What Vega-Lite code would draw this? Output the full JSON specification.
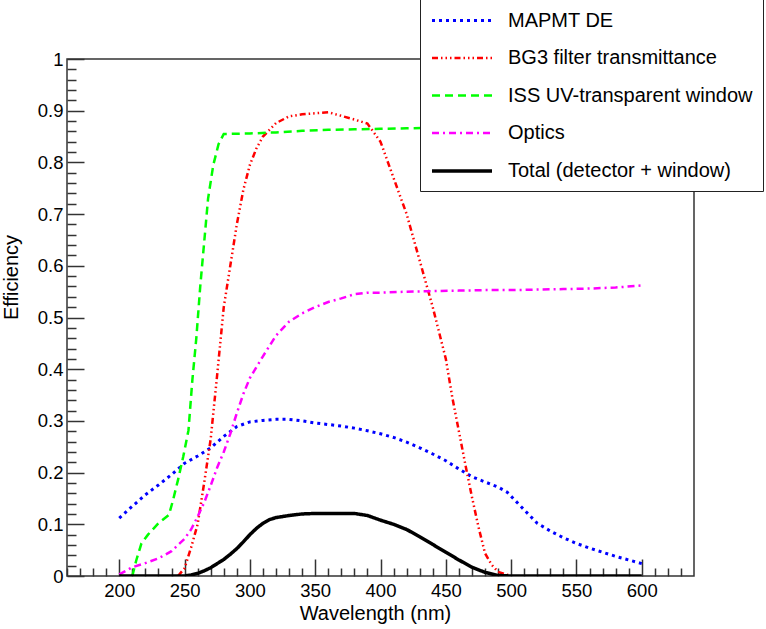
{
  "$schema": "https://vega.github.io/schema/vega-lite/v6.json",
  "width": 627,
  "height": 517,
  "autosize": "none",
  "padding": {"left": 67, "top": 59, "right": 72, "bottom": 53},
  "background": "white",
  "config": {
    "view": {"stroke": "#333", "strokeWidth": 1.5},
    "font": "Liberation Sans",
    "axis": {"grid": false, "domain": false, "tickColor": "#333", "tickWidth": 1.5, "labelFont": "Liberation Sans", "labelFontSize": 18.5, "labelColor": "black", "titleFont": "Liberation Sans", "titleFontSize": 20, "titleFontWeight": "normal", "titleColor": "black"}
  },
  "datasets": {
    "curves": [
      {"s": "MAPMT DE", "w": 200, "e": 0.112},
      {"s": "MAPMT DE", "w": 210, "e": 0.135},
      {"s": "MAPMT DE", "w": 220, "e": 0.157},
      {"s": "MAPMT DE", "w": 230, "e": 0.176},
      {"s": "MAPMT DE", "w": 240, "e": 0.196},
      {"s": "MAPMT DE", "w": 250, "e": 0.218},
      {"s": "MAPMT DE", "w": 260, "e": 0.232},
      {"s": "MAPMT DE", "w": 270, "e": 0.248},
      {"s": "MAPMT DE", "w": 280, "e": 0.27},
      {"s": "MAPMT DE", "w": 290, "e": 0.289},
      {"s": "MAPMT DE", "w": 300, "e": 0.298},
      {"s": "MAPMT DE", "w": 310, "e": 0.301},
      {"s": "MAPMT DE", "w": 320, "e": 0.303},
      {"s": "MAPMT DE", "w": 330, "e": 0.303},
      {"s": "MAPMT DE", "w": 340, "e": 0.3},
      {"s": "MAPMT DE", "w": 350, "e": 0.296},
      {"s": "MAPMT DE", "w": 360, "e": 0.293},
      {"s": "MAPMT DE", "w": 370, "e": 0.29},
      {"s": "MAPMT DE", "w": 380, "e": 0.286},
      {"s": "MAPMT DE", "w": 390, "e": 0.281},
      {"s": "MAPMT DE", "w": 400, "e": 0.275},
      {"s": "MAPMT DE", "w": 410, "e": 0.268},
      {"s": "MAPMT DE", "w": 420, "e": 0.259},
      {"s": "MAPMT DE", "w": 430, "e": 0.248},
      {"s": "MAPMT DE", "w": 440, "e": 0.236},
      {"s": "MAPMT DE", "w": 450, "e": 0.223},
      {"s": "MAPMT DE", "w": 460, "e": 0.207},
      {"s": "MAPMT DE", "w": 470, "e": 0.192},
      {"s": "MAPMT DE", "w": 480, "e": 0.182},
      {"s": "MAPMT DE", "w": 490, "e": 0.172},
      {"s": "MAPMT DE", "w": 497, "e": 0.162},
      {"s": "MAPMT DE", "w": 510, "e": 0.128},
      {"s": "MAPMT DE", "w": 520, "e": 0.102},
      {"s": "MAPMT DE", "w": 530, "e": 0.087},
      {"s": "MAPMT DE", "w": 540, "e": 0.074},
      {"s": "MAPMT DE", "w": 550, "e": 0.063},
      {"s": "MAPMT DE", "w": 560, "e": 0.054},
      {"s": "MAPMT DE", "w": 570, "e": 0.046},
      {"s": "MAPMT DE", "w": 580, "e": 0.038},
      {"s": "MAPMT DE", "w": 590, "e": 0.031},
      {"s": "MAPMT DE", "w": 600, "e": 0.024},

      {"s": "BG3 filter transmittance", "w": 245, "e": 0.0},
      {"s": "BG3 filter transmittance", "w": 250, "e": 0.015},
      {"s": "BG3 filter transmittance", "w": 255, "e": 0.055},
      {"s": "BG3 filter transmittance", "w": 260, "e": 0.1},
      {"s": "BG3 filter transmittance", "w": 265, "e": 0.18},
      {"s": "BG3 filter transmittance", "w": 270, "e": 0.265},
      {"s": "BG3 filter transmittance", "w": 275, "e": 0.39},
      {"s": "BG3 filter transmittance", "w": 280, "e": 0.52},
      {"s": "BG3 filter transmittance", "w": 285, "e": 0.6},
      {"s": "BG3 filter transmittance", "w": 290, "e": 0.68},
      {"s": "BG3 filter transmittance", "w": 295, "e": 0.747},
      {"s": "BG3 filter transmittance", "w": 300, "e": 0.795},
      {"s": "BG3 filter transmittance", "w": 305, "e": 0.827},
      {"s": "BG3 filter transmittance", "w": 310, "e": 0.85},
      {"s": "BG3 filter transmittance", "w": 320, "e": 0.876},
      {"s": "BG3 filter transmittance", "w": 330, "e": 0.889},
      {"s": "BG3 filter transmittance", "w": 340, "e": 0.893},
      {"s": "BG3 filter transmittance", "w": 350, "e": 0.895},
      {"s": "BG3 filter transmittance", "w": 360, "e": 0.897},
      {"s": "BG3 filter transmittance", "w": 370, "e": 0.89},
      {"s": "BG3 filter transmittance", "w": 380, "e": 0.883},
      {"s": "BG3 filter transmittance", "w": 390, "e": 0.875},
      {"s": "BG3 filter transmittance", "w": 400, "e": 0.84},
      {"s": "BG3 filter transmittance", "w": 410, "e": 0.77},
      {"s": "BG3 filter transmittance", "w": 420, "e": 0.7},
      {"s": "BG3 filter transmittance", "w": 430, "e": 0.61},
      {"s": "BG3 filter transmittance", "w": 440, "e": 0.52},
      {"s": "BG3 filter transmittance", "w": 450, "e": 0.42},
      {"s": "BG3 filter transmittance", "w": 455, "e": 0.345},
      {"s": "BG3 filter transmittance", "w": 460, "e": 0.28},
      {"s": "BG3 filter transmittance", "w": 465, "e": 0.215},
      {"s": "BG3 filter transmittance", "w": 470, "e": 0.153},
      {"s": "BG3 filter transmittance", "w": 475, "e": 0.095},
      {"s": "BG3 filter transmittance", "w": 480, "e": 0.044},
      {"s": "BG3 filter transmittance", "w": 485, "e": 0.022},
      {"s": "BG3 filter transmittance", "w": 490, "e": 0.008},
      {"s": "BG3 filter transmittance", "w": 500, "e": 0.0},

      {"s": "ISS UV-transparent window", "w": 210, "e": 0.0},
      {"s": "ISS UV-transparent window", "w": 213, "e": 0.03},
      {"s": "ISS UV-transparent window", "w": 217, "e": 0.063},
      {"s": "ISS UV-transparent window", "w": 222, "e": 0.08},
      {"s": "ISS UV-transparent window", "w": 230, "e": 0.102},
      {"s": "ISS UV-transparent window", "w": 238, "e": 0.118},
      {"s": "ISS UV-transparent window", "w": 241, "e": 0.145},
      {"s": "ISS UV-transparent window", "w": 245, "e": 0.186},
      {"s": "ISS UV-transparent window", "w": 249, "e": 0.231},
      {"s": "ISS UV-transparent window", "w": 253, "e": 0.282},
      {"s": "ISS UV-transparent window", "w": 256, "e": 0.38},
      {"s": "ISS UV-transparent window", "w": 259, "e": 0.46},
      {"s": "ISS UV-transparent window", "w": 262, "e": 0.56},
      {"s": "ISS UV-transparent window", "w": 265, "e": 0.645},
      {"s": "ISS UV-transparent window", "w": 268, "e": 0.73},
      {"s": "ISS UV-transparent window", "w": 272, "e": 0.795},
      {"s": "ISS UV-transparent window", "w": 276, "e": 0.835},
      {"s": "ISS UV-transparent window", "w": 280, "e": 0.855},
      {"s": "ISS UV-transparent window", "w": 300, "e": 0.856},
      {"s": "ISS UV-transparent window", "w": 320, "e": 0.858},
      {"s": "ISS UV-transparent window", "w": 340, "e": 0.861},
      {"s": "ISS UV-transparent window", "w": 360, "e": 0.863},
      {"s": "ISS UV-transparent window", "w": 380, "e": 0.864},
      {"s": "ISS UV-transparent window", "w": 400, "e": 0.865},
      {"s": "ISS UV-transparent window", "w": 420, "e": 0.866},
      {"s": "ISS UV-transparent window", "w": 450, "e": 0.867},
      {"s": "ISS UV-transparent window", "w": 500, "e": 0.868},
      {"s": "ISS UV-transparent window", "w": 550, "e": 0.869},
      {"s": "ISS UV-transparent window", "w": 600, "e": 0.87},

      {"s": "Optics", "w": 200, "e": 0.003},
      {"s": "Optics", "w": 210, "e": 0.017},
      {"s": "Optics", "w": 220, "e": 0.025},
      {"s": "Optics", "w": 230, "e": 0.034},
      {"s": "Optics", "w": 240, "e": 0.048},
      {"s": "Optics", "w": 250, "e": 0.072},
      {"s": "Optics", "w": 255, "e": 0.09},
      {"s": "Optics", "w": 260, "e": 0.115},
      {"s": "Optics", "w": 265, "e": 0.142},
      {"s": "Optics", "w": 270, "e": 0.175},
      {"s": "Optics", "w": 275, "e": 0.21},
      {"s": "Optics", "w": 280, "e": 0.24},
      {"s": "Optics", "w": 285, "e": 0.275},
      {"s": "Optics", "w": 290, "e": 0.315},
      {"s": "Optics", "w": 295, "e": 0.352},
      {"s": "Optics", "w": 300, "e": 0.383},
      {"s": "Optics", "w": 310, "e": 0.425},
      {"s": "Optics", "w": 320, "e": 0.465},
      {"s": "Optics", "w": 330, "e": 0.492},
      {"s": "Optics", "w": 340, "e": 0.508},
      {"s": "Optics", "w": 350, "e": 0.52},
      {"s": "Optics", "w": 360, "e": 0.53},
      {"s": "Optics", "w": 370, "e": 0.537},
      {"s": "Optics", "w": 380, "e": 0.545},
      {"s": "Optics", "w": 390, "e": 0.548},
      {"s": "Optics", "w": 400, "e": 0.548},
      {"s": "Optics", "w": 420, "e": 0.55},
      {"s": "Optics", "w": 440, "e": 0.551},
      {"s": "Optics", "w": 460, "e": 0.552},
      {"s": "Optics", "w": 480, "e": 0.553},
      {"s": "Optics", "w": 500, "e": 0.553},
      {"s": "Optics", "w": 520, "e": 0.554},
      {"s": "Optics", "w": 540, "e": 0.555},
      {"s": "Optics", "w": 560, "e": 0.556},
      {"s": "Optics", "w": 580, "e": 0.558},
      {"s": "Optics", "w": 600, "e": 0.562},

      {"s": "Total (detector + window)", "w": 200, "e": 0.0},
      {"s": "Total (detector + window)", "w": 250, "e": 0.0},
      {"s": "Total (detector + window)", "w": 255, "e": 0.002},
      {"s": "Total (detector + window)", "w": 260, "e": 0.005},
      {"s": "Total (detector + window)", "w": 265, "e": 0.01},
      {"s": "Total (detector + window)", "w": 270, "e": 0.016},
      {"s": "Total (detector + window)", "w": 275, "e": 0.024},
      {"s": "Total (detector + window)", "w": 280, "e": 0.032},
      {"s": "Total (detector + window)", "w": 285, "e": 0.042},
      {"s": "Total (detector + window)", "w": 290, "e": 0.053},
      {"s": "Total (detector + window)", "w": 295, "e": 0.066},
      {"s": "Total (detector + window)", "w": 300, "e": 0.08},
      {"s": "Total (detector + window)", "w": 305, "e": 0.092},
      {"s": "Total (detector + window)", "w": 310, "e": 0.102},
      {"s": "Total (detector + window)", "w": 315, "e": 0.109},
      {"s": "Total (detector + window)", "w": 320, "e": 0.113},
      {"s": "Total (detector + window)", "w": 330, "e": 0.117},
      {"s": "Total (detector + window)", "w": 340, "e": 0.12},
      {"s": "Total (detector + window)", "w": 350, "e": 0.121},
      {"s": "Total (detector + window)", "w": 360, "e": 0.121},
      {"s": "Total (detector + window)", "w": 370, "e": 0.121},
      {"s": "Total (detector + window)", "w": 380, "e": 0.121},
      {"s": "Total (detector + window)", "w": 390, "e": 0.117},
      {"s": "Total (detector + window)", "w": 400, "e": 0.108},
      {"s": "Total (detector + window)", "w": 410, "e": 0.1},
      {"s": "Total (detector + window)", "w": 420, "e": 0.09},
      {"s": "Total (detector + window)", "w": 430, "e": 0.076},
      {"s": "Total (detector + window)", "w": 440, "e": 0.061},
      {"s": "Total (detector + window)", "w": 450, "e": 0.046},
      {"s": "Total (detector + window)", "w": 460, "e": 0.031},
      {"s": "Total (detector + window)", "w": 470, "e": 0.017},
      {"s": "Total (detector + window)", "w": 480, "e": 0.007},
      {"s": "Total (detector + window)", "w": 490, "e": 0.001},
      {"s": "Total (detector + window)", "w": 500, "e": 0.0},
      {"s": "Total (detector + window)", "w": 600, "e": 0.0}
    ]
  },
  "data": {"name": "curves"},
  "layer": [
    {
      "mark": {"type": "line", "strokeCap": "butt", "clip": true},
      "encoding": {
        "x": {
          "field": "w", "type": "quantitative",
          "scale": {"domain": [160, 640], "nice": false, "zero": false},
          "axis": {"orient": "bottom", "values": [200, 250, 300, 350, 400, 450, 500, 550, 600], "tickSize": -17, "labelPadding": 22, "labelFlush": false, "title": "Wavelength (nm)", "titleX": 308, "titleY": 43, "titleBaseline": "alphabetic", "titleAnchor": "middle", "titleAlign": "center"}
        },
        "y": {
          "field": "e", "type": "quantitative",
          "scale": {"domain": [0, 1], "nice": false, "zero": true},
          "axis": {"orient": "left", "values": [0, 0.1, 0.2, 0.3, 0.4, 0.5, 0.6, 0.7, 0.8, 0.9, 1], "format": "~g", "tickSize": -17, "labelPadding": 21, "labelFlush": false, "title": "Efficiency", "titleX": -56, "titleY": 218, "titleAngle": -90, "titleBaseline": "middle", "titleAlign": "center"}
        },
        "color": {
          "field": "s", "type": "nominal",
          "scale": {"domain": ["MAPMT DE", "BG3 filter transmittance", "ISS UV-transparent window", "Optics", "Total (detector + window)"], "range": ["#0000ff", "#ff0000", "#00ff00", "#ff00ff", "#000000"]},
          "legend": {"title": null, "orient": "none", "legendX": 353, "legendY": -60, "fillColor": "white", "strokeColor": "#222", "padding": 10, "symbolType": "M-1,0H5", "symbolSize": 400, "labelOffset": 54, "rowPadding": 15.5, "labelFontSize": 20, "labelFont": "Liberation Sans", "labelColor": "black", "labelLimit": 400}
        },
        "strokeDash": {
          "field": "s", "type": "nominal",
          "scale": {"domain": ["MAPMT DE", "BG3 filter transmittance", "ISS UV-transparent window", "Optics", "Total (detector + window)"], "range": [[3, 4], [6, 3, 1.5, 3, 1.5, 3, 1.5, 3], [8, 5], [7, 4, 2, 4], [1, 0]]},
          "legend": {"title": null, "orient": "none", "legendX": 353, "legendY": -60, "fillColor": "white", "strokeColor": "#222", "padding": 10, "symbolType": "M-1,0H5", "symbolSize": 400, "labelOffset": 54, "rowPadding": 15.5, "labelFontSize": 20, "labelFont": "Liberation Sans", "labelColor": "black", "labelLimit": 400}
        },
        "strokeWidth": {
          "field": "s", "type": "nominal",
          "scale": {"type": "ordinal", "domain": ["MAPMT DE", "BG3 filter transmittance", "ISS UV-transparent window", "Optics", "Total (detector + window)"], "range": [3, 2.5, 2.5, 2.5, 3.5]},
          "legend": {"title": null, "orient": "none", "legendX": 353, "legendY": -60, "fillColor": "white", "strokeColor": "#222", "padding": 10, "symbolType": "M-1,0H5", "symbolSize": 400, "labelOffset": 54, "rowPadding": 15.5, "labelFontSize": 20, "labelFont": "Liberation Sans", "labelColor": "black", "labelLimit": 400}
        }
      }
    },
    {
      "mark": {"type": "point", "opacity": 0},
      "encoding": {
        "x": {
          "field": "w", "type": "quantitative",
          "axis": {"orient": "bottom", "values": [160, 170, 180, 190, 210, 220, 230, 240, 260, 270, 280, 290, 310, 320, 330, 340, 360, 370, 380, 390, 410, 420, 430, 440, 460, 470, 480, 490, 510, 520, 530, 540, 560, 570, 580, 590, 610, 620, 630], "tickSize": -8, "labels": false, "title": null}
        },
        "y": {
          "field": "e", "type": "quantitative",
          "axis": {"orient": "left", "values": [0.02, 0.04, 0.06, 0.08, 0.12, 0.14, 0.16, 0.18, 0.22, 0.24, 0.26, 0.28, 0.32, 0.34, 0.36, 0.38, 0.42, 0.44, 0.46, 0.48, 0.52, 0.54, 0.56, 0.58, 0.62, 0.64, 0.66, 0.68, 0.72, 0.74, 0.76, 0.78, 0.82, 0.84, 0.86, 0.88, 0.92, 0.94, 0.96, 0.98], "tickSize": -9, "labels": false, "title": null}
        }
      }
    }
  ],
  "resolve": {"axis": {"x": "independent", "y": "independent"}}
}
